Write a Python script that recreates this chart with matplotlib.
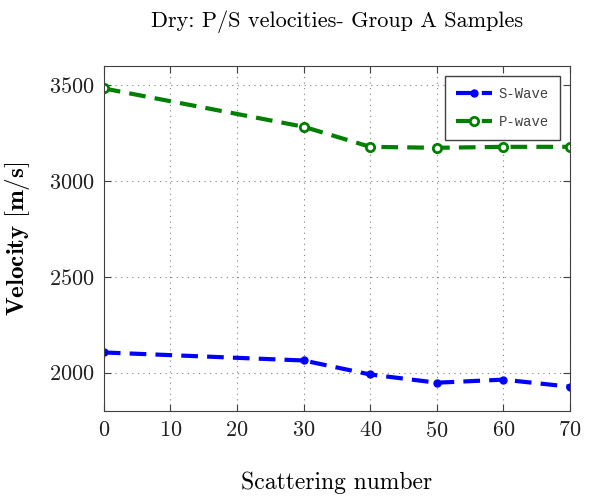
import matplotlib
matplotlib.use("Agg")
import matplotlib.pyplot as plt

scatter_num = [0, 30, 40, 50, 60, 70]
s_wave = [2105, 2063, 1990, 1947, 1963, 1926]
p_wave = [3484, 3284, 3179, 3174, 3179, 3179]

plt.rcParams['font.family'] = ['cmr10', 'DejaVu Serif']
plt.rcParams['mathtext.fontset'] = 'cm'
plt.rcParams['axes.unicode_minus'] = False
plt.rcParams['axes.formatter.use_mathtext'] = True

fig = plt.figure(figsize=(5.9, 4.98), dpi=100)
ax = fig.add_axes([0.176, 0.175, 0.79, 0.692])

ax.plot(scatter_num, s_wave, color='#0000ff', lw=3, ls=(0, (4, 2.2)), marker='o',
        markersize=5, mfc='#0000ff', mec='#0000ff', label='S-Wave')
ax.plot(scatter_num, p_wave, color='#008000', lw=3, ls=(0, (4, 2.2)), marker='o',
        markersize=6, mfc='white', mec='#008000', mew=2, label='P-wave')

ax.set_xlim(0, 70)
ax.set_ylim(1800, 3600)
ax.set_xticks(range(0, 71, 10))
ax.set_yticks([2000, 2500, 3000, 3500])
ax.tick_params(direction='in', top=True, right=True, labelsize=16,
               length=5, color='#404040', pad=7, labelcolor='#202020')
for s in ax.spines.values():
    s.set_color('#404040')

ax.grid(True, linestyle=(0, (1, 4)), color='#808080', linewidth=0.8)

ax.set_title('Dry: P/S velocities- Group A Samples', fontsize=16, pad=28)
ax.set_xlabel('Scattering number', fontsize=17, labelpad=22)
ax.set_ylabel(r'$\mathbf{Velocity\ [m/s]}$', fontsize=18, labelpad=12)

leg = ax.legend(loc='upper right', prop={'family': 'Liberation Mono', 'size': 10},
                fancybox=False, framealpha=1, edgecolor='#404040',
                handlelength=2.6, handletextpad=0.5, borderpad=0.8,
                labelspacing=1.0, borderaxespad=0.7)
leg.get_frame().set_linewidth(1)
for t in leg.get_texts():
    t.set_color('#404040')

fig.savefig('out.png', dpi=100)
